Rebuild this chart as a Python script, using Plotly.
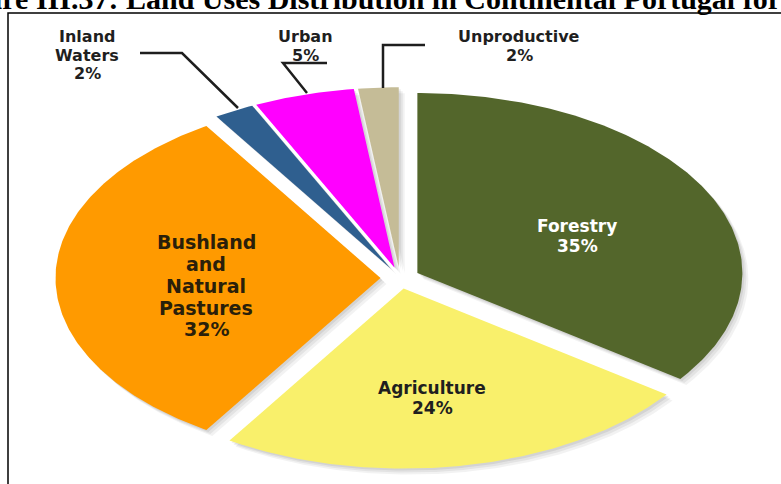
import numpy as np
import plotly.graph_objects as go

# ---------------- data ----------------
categories = ["Forestry", "Agriculture", "Bushland and Natural Pastures",
              "Inland Waters", "Urban", "Unproductive"]
values = [35, 24, 32, 2, 5, 2]
pct_labels = ["35%", "24%", "32%", "2%", "5%", "2%"]
label_lines = [["Forestry"], ["Agriculture"], ["Bushland", "and", "Natural", "Pastures"],
               ["Inland", "Waters"], ["Urban"], ["Unproductive"]]
title_text = "Figure III.37: Land Uses Distribution in Continental Portugal for"

# ---------------- style ----------------
colors = ["#53662B", "#F9F06B", "#FF9A00", "#2F5F8F", "#FF00FF", "#C5BC97"]
W, H = 781, 484
CX, CY = 400, 278      # pie centre (pixel-like axis units)
RX, RY = 325, 180      # elliptical radii
PULL = 0.06
FONT = "DejaVu Sans"
TXT = "#1f1f1f"

fig = go.Figure()

total = float(sum(values))
wedges = []
start = 0.0
for cat, v in zip(categories, values):
    a0 = start / total * 2 * np.pi
    a1 = (start + v) / total * 2 * np.pi
    mid = (a0 + a1) / 2
    dx = PULL * RX * np.sin(mid)
    dy = -PULL * RY * np.cos(mid)
    t = np.linspace(a0, a1, max(int(v * 6), 12))
    xs = np.concatenate([[CX + dx], CX + dx + RX * np.sin(t), [CX + dx]])
    ys = np.concatenate([[CY + dy], CY + dy - RY * np.cos(t), [CY + dy]])
    wedges.append((cat, xs, ys))
    start += v

# soft shadow
for off, alpha in [(6, 0.05), (4, 0.06), (2, 0.07)]:
    for cat, xs, ys in wedges:
        fig.add_trace(go.Scatter(x=xs + off, y=ys + off, mode="lines", fill="toself",
                                 fillcolor=f"rgba(0,0,0,{alpha})", line=dict(width=0),
                                 hoverinfo="skip", showlegend=False))

for (cat, xs, ys), col in zip(wedges, colors):
    fig.add_trace(go.Scatter(x=xs, y=ys, mode="lines", fill="toself", fillcolor=col,
                             line=dict(width=0), name=cat, hoverinfo="name",
                             showlegend=False))

annotations = []

def txt(s, x, y, size, color=TXT):
    annotations.append(dict(text=s, x=x, y=y, xref="x", yref="y", showarrow=False,
                            xanchor="center", yanchor="middle",
                            font=dict(family=FONT, size=size, color=color, weight="bold")))

# inside labels
for s, y in zip(label_lines[0] + [pct_labels[0]], [226, 246]):
    txt(s, 577, y, 17, "#ffffff")
for s, y in zip(label_lines[1] + [pct_labels[1]], [388, 408]):
    txt(s, 432, y, 17)
for s, y in zip(label_lines[2] + [pct_labels[2]], [242, 264, 286, 308, 329]):
    txt(s, 206, y, 19, "#2a1f0a")
# outside labels
for s, y in zip(label_lines[3] + [pct_labels[3]], [36.5, 55, 73.5]):
    txt(s, 87, y, 16)
for s, y in zip(label_lines[4] + [pct_labels[4]], [36.5, 55]):
    txt(s, 305, y, 16)
for s, y in zip(label_lines[5] + [pct_labels[5]], [36.5, 55]):
    txt(s, 519, y, 16)

# clipped document caption at top
annotations.append(dict(text=title_text, x=-58 / W, y=1 - 17 / H, xref="paper", yref="paper",
                        showarrow=False, xanchor="left", yanchor="bottom",
                        font=dict(family="Liberation Serif", size=30, color="#000000",
                                  weight="bold")))

shapes = [
    dict(type="path", path="M 8,500 L 8,13 L 800,13", xref="x", yref="y",
         line=dict(color="#000000", width=1.5)),
    dict(type="path", path="M 140,53 L 182,53 L 238,108", xref="x", yref="y",
         line=dict(color="#1e1e1e", width=2.5)),
    dict(type="path", path="M 327,63 L 283,63 L 307,93", xref="x", yref="y",
         line=dict(color="#1e1e1e", width=2.5)),
    dict(type="path", path="M 425,45 L 383,45 L 383,88", xref="x", yref="y",
         line=dict(color="#1e1e1e", width=2.5)),
]

fig.update_layout(
    width=W, height=H, margin=dict(l=0, r=0, t=0, b=0),
    paper_bgcolor="#ffffff", plot_bgcolor="#ffffff",
    xaxis=dict(range=[0, W], visible=False, fixedrange=True),
    yaxis=dict(range=[H, 0], visible=False, fixedrange=True),
    annotations=annotations, shapes=shapes, showlegend=False,
)

fig.write_html("out.html")
